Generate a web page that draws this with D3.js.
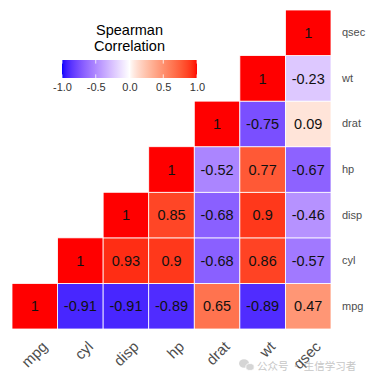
<!DOCTYPE html>
<html>
<head>
<meta charset="utf-8">
<script src="https://cdn.jsdelivr.net/npm/d3@7"></script>
<style>
  html, body { margin: 0; padding: 0; background: #fff; }
  svg { display: block; font-family: "Liberation Sans", Arial, Helvetica, sans-serif; }
</style>
</head>
<body>
<svg id="chart" width="371" height="380"></svg>
<script>
// ---- data ----
const variables = ["mpg", "cyl", "disp", "hp", "drat", "wt", "qsec"];
// Spearman correlations of each row variable with itself and the variables after it
const rowMpg  = [1, -0.91, -0.91, -0.89, 0.65, -0.89, 0.47];
const rowCyl  = [1, 0.93, 0.9, -0.68, 0.86, -0.57];
const rowDisp = [1, 0.85, -0.68, 0.9, -0.46];
const rowHp   = [1, -0.52, 0.77, -0.67];
const rowDrat = [1, -0.75, 0.09];
const rowWt   = [1, -0.23];
const rowQsec = [1];
const legendTicks = [-1.0, -0.5, 0.0, 0.5, 1.0];
const legendTitle = ["Spearman", "Correlation"];
const watermark = "公众号 · 生信学习者";

const rows = [rowMpg, rowCyl, rowDisp, rowHp, rowDrat, rowWt, rowQsec];
const cells = [];
rows.forEach((vals, i) => {
  vals.forEach((v, k) => {
    cells.push({ row: variables[i], col: variables[i + k], value: v });
  });
});

// ---- scales ----
const svg = d3.select("#chart");
const x = d3.scaleBand().domain(variables).range([12, 331]);
const y = d3.scaleBand().domain(variables.slice().reverse()).range([10, 329]);

const toBlue = d3.interpolateLab("#ffffff", "#0000ff");
const toRed = d3.interpolateLab("#ffffff", "#ff0000");
const color = v => v < 0 ? toBlue(-v) : toRed(Math.pow(v, 0.8));

// ---- cells ----
svg.append("g").selectAll("rect").data(cells).join("rect")
  .attr("x", d => x(d.col))
  .attr("y", d => y(d.row))
  .attr("width", x.bandwidth())
  .attr("height", y.bandwidth())
  .attr("fill", d => color(d.value))
  .attr("stroke", "#ffffff")
  .attr("stroke-width", 0.8);

svg.append("g").selectAll("text").data(cells).join("text")
  .attr("x", d => x(d.col) + x.bandwidth() / 2)
  .attr("y", d => y(d.row) + y.bandwidth() / 2)
  .attr("dy", "0.36em")
  .attr("text-anchor", "middle")
  .attr("font-size", "14.5px")
  .attr("fill", "#111")
  .text(d => String(d.value));

// ---- axes ----
const yAxis = svg.append("g")
  .attr("transform", "translate(331,0)")
  .call(d3.axisRight(y).tickSize(0).tickPadding(11));
yAxis.select(".domain").remove();
yAxis.selectAll("text")
  .attr("font-size", "11px")
  .attr("fill", "#4d4d4d")
  .attr("font-family", "'Liberation Sans', Arial, sans-serif");

// x labels, rotated 45 degrees, right/top-justified at the tick
const xAxis = svg.append("g").attr("class", "x-labels");
xAxis.selectAll("text").data(x.domain()).join("text")
  .attr("transform", d => `translate(${x(d) + x.bandwidth() / 2 + 6},340) rotate(-45)`)
  .attr("x", 0).attr("y", 0)
  .attr("text-anchor", "end")
  .attr("dy", "0.72em")
  .attr("font-size", "15px")
  .attr("fill", "#4d4d4d")
  .text(d => d);

// ---- legend ----
const lx = d3.scaleLinear().domain([-1, 1]).range([62, 197]);
const grad = svg.append("defs").append("linearGradient").attr("id", "cbar")
  .attr("x1", "0%").attr("x2", "100%").attr("y1", "0%").attr("y2", "0%");
d3.range(0, 81).forEach(i => {
  grad.append("stop").attr("offset", (i / 80 * 100) + "%").attr("stop-color", color(-1 + i / 40));
});
const barTop = 60, barH = 18;
svg.append("rect")
  .attr("x", lx(-1)).attr("y", barTop)
  .attr("width", lx(1) - lx(-1)).attr("height", barH)
  .attr("fill", "url(#cbar)");
const tickG = svg.append("g");
legendTicks.forEach(t => {
  tickG.append("line").attr("x1", lx(t)).attr("x2", lx(t))
    .attr("y1", barTop).attr("y2", barTop + 3.6)
    .attr("stroke", "#fff").attr("stroke-width", 0.8);
  tickG.append("line").attr("x1", lx(t)).attr("x2", lx(t))
    .attr("y1", barTop + barH - 3.6).attr("y2", barTop + barH)
    .attr("stroke", "#fff").attr("stroke-width", 0.8);
});
const lAxis = svg.append("g")
  .attr("transform", `translate(0,${barTop + barH})`)
  .call(d3.axisBottom(lx).tickValues(legendTicks).tickSize(0).tickPadding(5)
    .tickFormat(d => d.toFixed(1)));
lAxis.select(".domain").remove();
lAxis.selectAll("text")
  .attr("font-size", "11px")
  .attr("fill", "#333")
  .attr("font-family", "'Liberation Sans', Arial, sans-serif");

svg.append("g").selectAll("text").data(legendTitle).join("text")
  .attr("x", (lx(-1) + lx(1)) / 2)
  .attr("y", (d, i) => 35 + i * 15.5)
  .attr("text-anchor", "middle")
  .attr("font-size", "14.5px")
  .attr("fill", "#000")
  .text(d => d);

// ---- watermark ----
const wm = svg.append("g").attr("opacity", 0.75);
wm.append("ellipse").attr("cx", 244).attr("cy", 363.5).attr("rx", 5).attr("ry", 4.2).attr("fill", "#c8c8c8");
wm.append("ellipse").attr("cx", 250).attr("cy", 367).attr("rx", 4.2).attr("ry", 3.5).attr("fill", "#c8c8c8").attr("stroke", "#fff").attr("stroke-width", 0.8);
wm.append("text").attr("x", 257).attr("y", 369.5)
  .attr("font-size", "10.5px")
  .attr("font-family", "'Noto Sans CJK SC', sans-serif")
  .attr("fill", "#b4b4b4")
  .text(watermark);
</script>
</body>
</html>
